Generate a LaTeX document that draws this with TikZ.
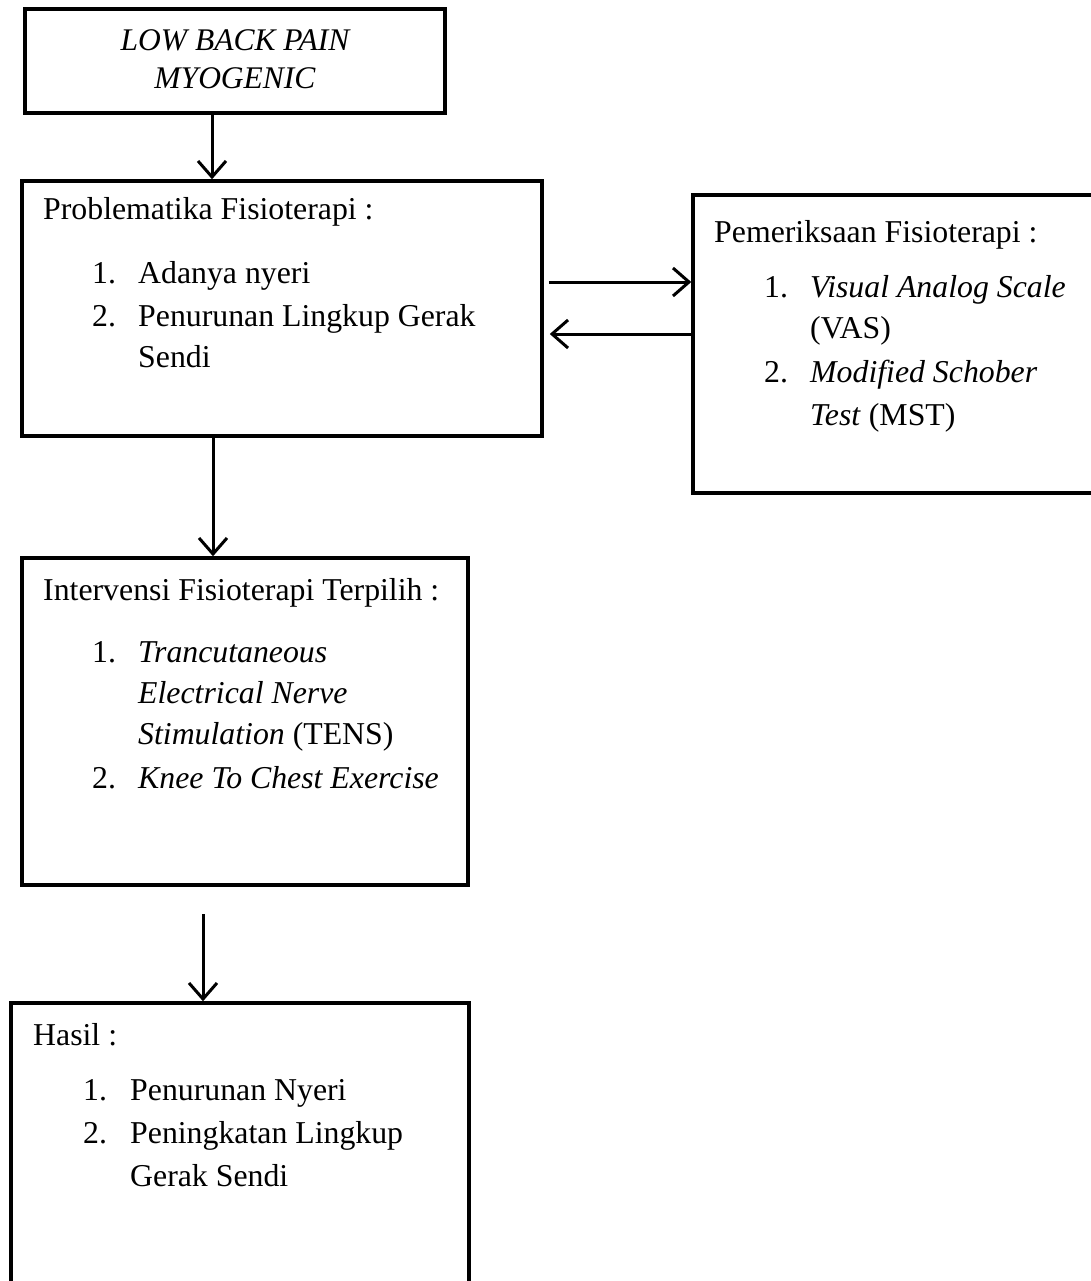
\documentclass[tikz,border=0pt]{standalone}
\usepackage{fontspec}
\setmainfont{Liberation Serif}
\usetikzlibrary{arrows.meta}
\begin{document}
\begin{tikzpicture}[x=1pt,y=-1pt,
  boxst/.style={draw=black, line width=3.5pt, rectangle, inner sep=0pt},
  arr/.style={line width=3pt, -{Straight Barb[length=16pt,width=28pt,line width=3pt]}},
  txt/.style={anchor=base west, inner sep=0pt, font=\fontsize{31.8}{38}\selectfont},
  ttl/.style={anchor=base, inner sep=0pt, font=\fontsize{31.5}{38}\selectfont\itshape}]
\useasboundingbox (0,0) rectangle (1091,1281);
\clip (0,0) rectangle (1091,1281);
% boxes
\node[boxst, minimum width=420pt, minimum height=104pt] (b1) at (235,61) {};
\node[boxst, minimum width=520pt, minimum height=255pt] (b2) at (282,308.5) {};
\node[boxst, minimum width=417pt, minimum height=298pt] (b3) at (901.5,344) {};
\node[boxst, minimum width=446pt, minimum height=327pt] (b4) at (245,721.5) {};
\node[boxst, minimum width=458pt, minimum height=297pt] (b5) at (240,1151.5) {};
% box 1 text
\node[ttl] (t1a) at (235,51) {LOW BACK PAIN};
\node[ttl] (t1b) at (235,89) {MYOGENIC};
% box 2 text
\node[txt] (t2) at (43,220) {Problematika Fisioterapi :};
\node[txt] (n21) at (92,283) {1.};
\node[txt] (t21) at (138,283) {Adanya nyeri};
\node[txt] (n22) at (92,326) {2.};
\node[txt] (t22) at (138,326) {Penurunan Lingkup Gerak};
\node[txt] (t22b) at (138,367) {Sendi};
% box 3 text
\node[txt] (t3) at (714,243) {Pemeriksaan Fisioterapi :};
\node[txt] (n31) at (764,297) {1.};
\node[txt] (t31) at (810,297) {\textit{Visual Analog Scale}};
\node[txt] (t31b) at (810,338) {(VAS)};
\node[txt] (n32) at (764,382) {2.};
\node[txt] (t32) at (810,382) {\textit{Modified Schober}};
\node[txt] (t32b) at (810,425) {\textit{Test} (MST)};
% box 4 text
\node[txt] (t4) at (43,600) {Intervensi Fisioterapi Terpilih :};
\node[txt] (n41) at (92,662) {1.};
\node[txt] (t41) at (138,662) {\textit{Trancutaneous}};
\node[txt] (t41b) at (138,703) {\textit{Electrical Nerve}};
\node[txt] (t41c) at (138,744) {\textit{Stimulation} (TENS)};
\node[txt] (n42) at (92,788) {2.};
\node[txt] (t42) at (138,788) {\textit{Knee To Chest Exercise}};
% box 5 text
\node[txt] (t5) at (33,1045) {Hasil :};
\node[txt] (n51) at (83,1100) {1.};
\node[txt] (t51) at (130,1100) {Penurunan Nyeri};
\node[txt] (n52) at (83,1143) {2.};
\node[txt] (t52) at (130,1143) {Peningkatan Lingkup};
\node[txt] (t52b) at (130,1186) {Gerak Sendi};
% connectors
\coordinate (c1) at (212,0);
\draw[arr] (c1 |- b1.south) -- (c1 |- b2.north);
\coordinate (r1) at (0,282);
\draw[arr] ([xshift=5pt]b2.east |- r1) -- (b3.west |- r1);
\coordinate (r2) at (0,334);
\draw[arr] (b3.west |- r2) -- ([xshift=6pt]b2.east |- r2);
\coordinate (c2) at (213,0);
\draw[arr] (c2 |- b2.south) -- (c2 |- b4.north);
\coordinate (s5) at (203,914);
\draw[arr] (s5) -- (s5 |- b5.north);
\end{tikzpicture}
\end{document}
